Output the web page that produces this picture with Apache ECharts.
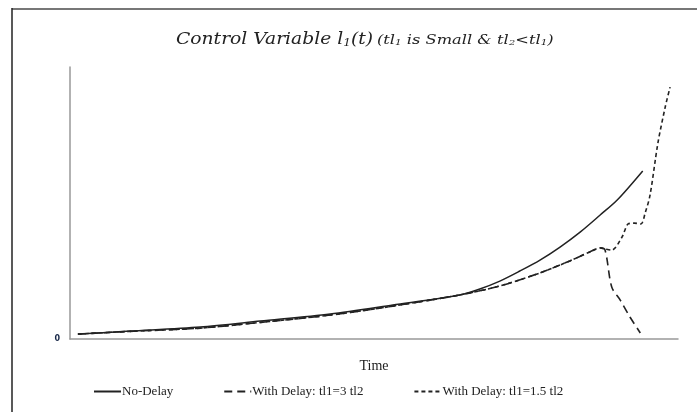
<!DOCTYPE html>
<html>
<head>
<meta charset="utf-8">
<script src="https://cdn.jsdelivr.net/npm/echarts@6/dist/echarts.min.js"></script>
<style>html,body{margin:0;padding:0;background:#fff}#c{width:697px;height:412px}</style>
</head>
<body>
<div id="c"></div>
<script>
// Data (time, value)
const noDelayT = [1.3, 9.9, 21.4, 31.3, 42.8, 53.1, 64.1, 67.4, 70.7, 74.0, 77.3, 80.6, 83.9, 87.2, 90.0, 94.2];
const noDelayV = [1.8, 2.9, 4.4, 6.6, 9.2, 12.5, 16.2, 18.4, 21.3, 25.0, 29.0, 33.8, 39.3, 45.6, 51.1, 61.8];

const delay3T = [1.3, 9.9, 21.4, 31.3, 42.8, 53.1, 64.1, 70.7, 77.3, 82.2, 85.5, 87.2, 88.0, 89.1, 90.5, 92.1, 93.8];
const delay3V = [1.8, 2.8, 4.0, 6.1, 8.8, 12.1, 16.2, 19.5, 24.3, 28.7, 32.0, 33.5, 32.7, 19.1, 14.3, 8.1, 2.2];

const delay15T = [1.3, 9.9, 21.4, 31.3, 42.8, 53.1, 64.1, 70.7, 77.3, 82.2, 85.5, 87.2, 88.0, 89.1, 90.8, 91.8, 92.8, 93.9, 94.6, 95.4, 96.7, 97.9, 98.7];
const delay15V = [1.8, 2.8, 4.0, 6.1, 8.8, 12.1, 16.2, 19.5, 24.3, 28.7, 32.0, 33.5, 33.1, 32.7, 37.5, 42.3, 42.6, 42.3, 46.3, 52.9, 72.1, 85.3, 92.6];

const seriesNames = ['No-Delay', 'With Delay: tl1=3 tl2', 'With Delay: tl1=1.5 tl2'];
const yTickLabels = ['0'];

const zip = (t, v) => t.map((x, i) => [x, v[i]]);

const chart = echarts.init(document.getElementById('c'));
const serif = 'DejaVu Serif';
const base = {fontFamily: serif, fontStyle: 'italic', fontWeight: 'normal', fill: '#222', color: '#222'};
chart.setOption({
  animation: false,
  backgroundColor: '#fff',
  grid: {left: 70, right: 19, top: 67, bottom: 73},
  xAxis: {
    type: 'value', min: 0, max: 100,
    name: 'Time', nameLocation: 'middle', nameGap: 20,
    nameTextStyle: {fontFamily: 'Liberation Serif', fontSize: 14, color: '#222'},
    axisLine: {lineStyle: {color: '#999', width: 1.5}},
    axisTick: {show: false}, axisLabel: {show: false}, splitLine: {show: false}
  },
  yAxis: {
    type: 'value', min: 0, max: 100, interval: 100,
    axisLine: {show: true, lineStyle: {color: '#999', width: 1.5}},
    axisTick: {show: false},
    axisLabel: {
      formatter: v => (v === 0 ? yTickLabels[0] : ''),
      fontFamily: 'DejaVu Sans', fontWeight: 'bold', fontSize: 8, color: '#1a2a4a', margin: 10
    },
    splitLine: {show: false}
  },
  legend: {
    bottom: 9, left: 88,
    itemWidth: 27, itemHeight: 10, itemGap: 50,
    itemStyle: {opacity: 0},
    textStyle: {fontFamily: 'Liberation Serif', fontSize: 13, color: '#222', padding: [0, 0, 0, -4]},
    data: seriesNames
  },
  series: [
    {name: seriesNames[0], type: 'line', data: zip(noDelayT, noDelayV), symbol: 'none', smooth: 0.3,
     lineStyle: {color: '#222', width: 1.5, type: 'solid'}, itemStyle: {color: '#222'}},
    {name: seriesNames[1], type: 'line', data: zip(delay3T, delay3V), symbol: 'none', smooth: 0.3,
     lineStyle: {color: '#222', width: 1.6, type: [8, 5]}, itemStyle: {color: '#222'}},
    {name: seriesNames[2], type: 'line', data: zip(delay15T, delay15V), symbol: 'none', smooth: 0.3,
     lineStyle: {color: '#222', width: 1.6, type: [4, 3]}, itemStyle: {color: '#222'}}
  ],
  graphic: [
    {type: 'line', shape: {x1: 12, y1: 9, x2: 697, y2: 9}, style: {stroke: '#777', lineWidth: 2}},
    {type: 'line', shape: {x1: 12, y1: 8, x2: 12, y2: 412}, style: {stroke: '#222', lineWidth: 1.5}},
    {type: 'text', x: 373, y: 40, scaleX: 1.1,
     style: {text: '{a|Control Variable l}{s|1}{a|(t)}', align: 'right', verticalAlign: 'middle',
       rich: {
         a: Object.assign({}, base, {fontSize: 17}),
         s: Object.assign({}, base, {fontSize: 11, padding: [6, 0, 0, 0]})
       }}},
    {type: 'text', x: 377, y: 41, scaleX: 1.3,
     style: {text: '{b|(tl}{bs|1}{b| is Small & tl}{bs|2}{b|<tl}{bs|1}{b|)}', align: 'left', verticalAlign: 'middle',
       rich: {
         b: Object.assign({}, base, {fontSize: 12.5}),
         bs: Object.assign({}, base, {fontSize: 8, padding: [4, 0, 0, 0]})
       }}}
  ]
});
</script>
</body>
</html>
